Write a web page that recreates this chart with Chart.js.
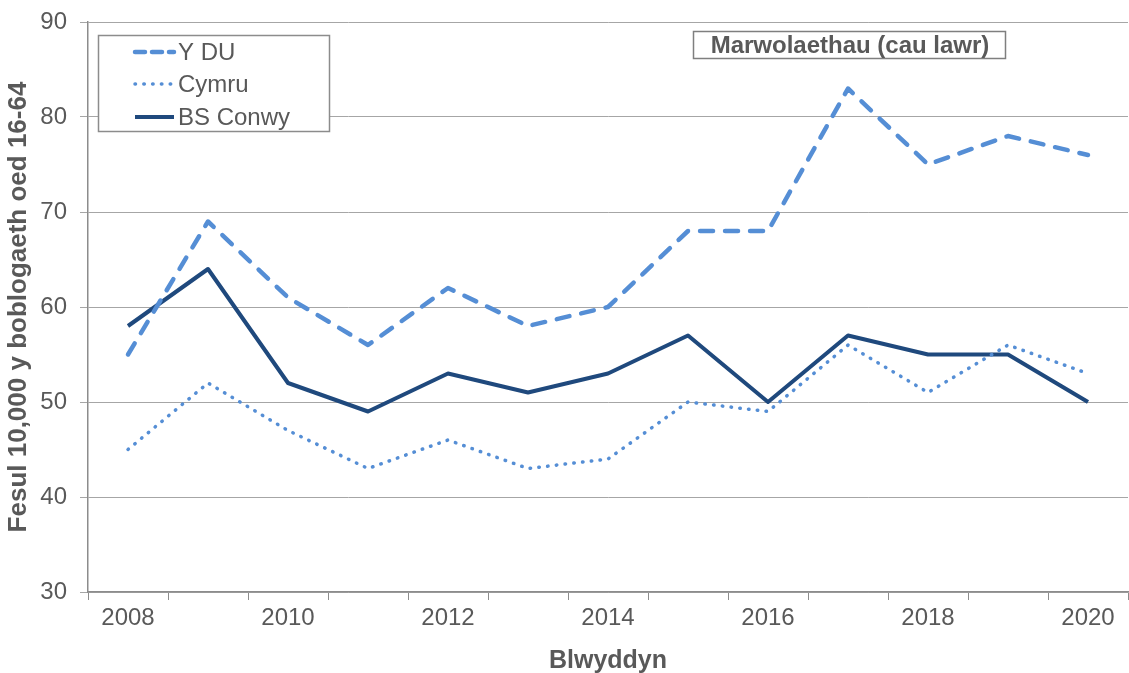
<!DOCTYPE html>
<html>
<head>
<meta charset="utf-8">
<script src="https://cdn.jsdelivr.net/npm/chart.js@4"></script>
<style>
  body { margin: 0; background: #fff; }
  #wrap { width: 1129px; height: 673px; position: relative; }
</style>
</head>
<body>
<div id="wrap"><canvas id="deathChart" width="1129" height="673"></canvas></div>
<script>
// Data
const years = ['2008', '2009', '2010', '2011', '2012', '2013', '2014', '2015', '2016', '2017', '2018', '2019', '2020'];
const ukValues = [55, 69, 61, 56, 62, 58, 60, 68, 68, 83, 75, 78, 76];
const walesValues = [45, 52, 47, 43, 46, 43, 44, 50, 49, 56, 51, 56, 53];
const conwyValues = [58, 64, 52, 49, 53, 51, 53, 57, 50, 57, 55, 55, 50];
const yTicks = [30, 40, 50, 60, 70, 80, 90];
const chartTitle = 'Marwolaethau (cau lawr)';

const textGrey = '#595959';
const lightBlue = '#558ED5';
const darkBlue = '#1F497D';
const fontFam = '"Liberation Sans", Arial, sans-serif';

// Legend + title box drawn inside the plot
const boxPlugin = {
    id: 'boxPlugin',
    afterDraw(chart) {
        const ctx = chart.ctx;
        ctx.save();

        // legend box
        ctx.strokeStyle = '#8c8c8c';
        ctx.lineWidth = 1.5;
        ctx.fillStyle = '#fff';
        ctx.fillRect(98.5, 35.5, 231, 96);
        ctx.strokeRect(98.5, 35.5, 231, 96);
        ctx.font = '24px ' + fontFam;
        ctx.textBaseline = 'middle';
        ctx.textAlign = 'left';
        const rows = [52, 84, 117];
        chart.data.datasets.forEach(function(ds, i) {
            const y = rows[i];
            ctx.beginPath();
            ctx.strokeStyle = ds.borderColor;
            ctx.lineWidth = ds.borderWidth;
            ctx.setLineDash(i === 0 ? [10, 7] : (ds.borderDash || []));
            ctx.lineCap = ds.borderCapStyle || 'butt';
            ctx.moveTo(135, y);
            ctx.lineTo(174, y);
            ctx.stroke();
            ctx.setLineDash([]);
            ctx.fillStyle = textGrey;
            ctx.fillText(ds.label, 178, y + 1);
        });

        // title box
        ctx.strokeStyle = '#7f7f7f';
        ctx.lineWidth = 1.5;
        ctx.fillStyle = '#fff';
        ctx.fillRect(693.5, 31.5, 312, 27);
        ctx.strokeRect(693.5, 31.5, 312, 27);
        ctx.font = 'bold 24px ' + fontFam;
        ctx.textAlign = 'center';
        ctx.fillStyle = textGrey;
        ctx.fillText(chartTitle, 850, 46);

        ctx.restore();
    }
};

document.addEventListener('DOMContentLoaded', function() {
    const ctx = document.getElementById('deathChart');

    new Chart(ctx.getContext('2d'), {
        type: 'line',
        data: {
            labels: years,
            datasets: [{
                label: 'Y DU',
                data: ukValues,
                borderColor: lightBlue,
                borderWidth: 4.5,
                borderDash: [13, 12],
                borderCapStyle: 'round'
            }, {
                label: 'Cymru',
                data: walesValues,
                borderColor: lightBlue,
                borderWidth: 3.5,
                borderDash: [0.5, 8.3],
                borderCapStyle: 'round'
            }, {
                label: 'BS Conwy',
                data: conwyValues,
                borderColor: darkBlue,
                borderWidth: 4
            }]
        },
        options: {
            responsive: false,
            animation: false,
            layout: { padding: { top: 22, right: 1, left: 0, bottom: 0 } },
            elements: {
                point: { radius: 0 },
                line: { tension: 0, borderJoinStyle: 'round' }
            },
            plugins: {
                legend: { display: false },
                tooltip: { enabled: false }
            },
            scales: {
                x: {
                    offset: true,
                    grid: {
                        offset: true,
                        drawOnChartArea: false,
                        tickLength: 8,
                        color: '#8c8c8c'
                    },
                    border: { color: '#8c8c8c', width: 1.5 },
                    ticks: {
                        autoSkip: false,
                        maxRotation: 0,
                        padding: 4,
                        color: textGrey,
                        font: { family: fontFam, size: 24 },
                        callback: function(v, i) { return i % 2 === 0 ? years[i] : ''; }
                    },
                    title: {
                        display: true,
                        text: 'Blwyddyn',
                        color: textGrey,
                        padding: { top: 0, bottom: -3 },
                        font: { family: fontFam, size: 25, weight: 'bold' }
                    },
                    afterFit: function(scale) { scale.height = 81; }
                },
                y: {
                    min: 30,
                    max: 90,
                    afterBuildTicks: function(scale) {
                        scale.ticks = yTicks.map(function(v) { return { value: v }; });
                    },
                    grid: {
                        color: '#a6a6a6',
                        lineWidth: 1,
                        tickLength: 8
                    },
                    border: { color: '#8c8c8c', width: 1.5 },
                    ticks: {
                        padding: 13,
                        color: textGrey,
                        font: { family: fontFam, size: 24 }
                    },
                    title: {
                        display: true,
                        text: 'Fesul 10,000 y boblogaeth oed 16-64',
                        color: textGrey,
                        padding: { top: 3, bottom: 0 },
                        font: { family: fontFam, size: 26, weight: 'bold' }
                    },
                    afterFit: function(scale) {
                        scale.width = 88;
                        scale.paddingTop = 0;
                        scale.paddingBottom = 0;
                    }
                }
            }
        },
        plugins: [boxPlugin]
    });
});
</script>
</body>
</html>
